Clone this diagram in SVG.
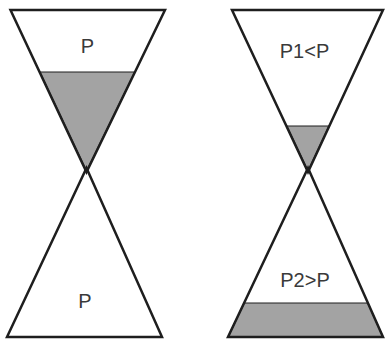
<svg xmlns="http://www.w3.org/2000/svg" width="385" height="340" viewBox="0 0 385 340">
<style>
.o{fill:none;stroke:#1e1e1e;stroke-width:2.5;stroke-linejoin:miter}
.g{fill:#a3a3a3;stroke:#1e1e1e;stroke-width:1.2}
.t{font-family:"Liberation Sans",Arial,sans-serif;font-size:20px;fill:#3a3a3a;text-anchor:middle}
</style>
<rect width="385" height="340" fill="#fff"/>
<g id="left-top">
<polygon class="g" points="39.8,72 134.8,72 86.5,171"/>
<polygon class="o" points="10.5,10 165,10 86.5,172"/>
<text class="t" x="87.5" y="53">P</text>
</g>
<g id="left-bottom">
<polygon class="o" points="86.5,168 162,337 7,337"/>
<text class="t" x="85" y="308">P</text>
</g>
<g id="right-top">
<polygon class="g" points="286.8,126 329,126 308,171"/>
<polygon class="o" points="232,10 383,10 308,172"/>
<text class="t" x="304.5" y="58">P1&lt;P</text>
</g>
<g id="right-bottom">
<polygon class="g" points="244.2,303 367.8,303 383,337 228,337"/>
<polygon class="o" points="308,168 383,337 228,337"/>
<text class="t" x="305" y="287">P2&gt;P</text>
</g>
<g id="connectors"/>
</svg>
